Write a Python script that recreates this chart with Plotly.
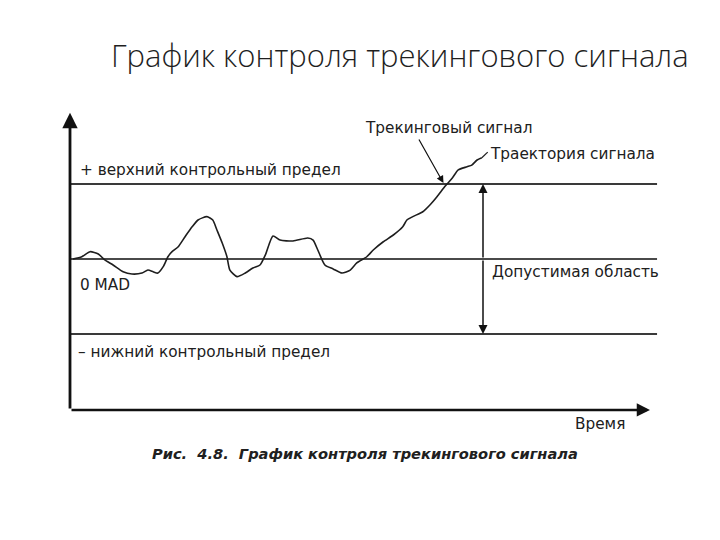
import plotly.graph_objects as go

# ---- data (time units, tracking signal in MAD units) ----
time = [0.5, 2.0, 3.4, 4.8, 5.9, 7.3, 9.0, 10.5, 12.2, 13.2, 14.1, 14.9, 15.8, 16.6,
        17.3, 18.3, 19.5, 20.7, 21.7, 23.2, 24.2, 24.9, 25.8, 26.6, 27.1, 28.3, 29.7,
        31.0, 32.2, 33.1, 34.4, 35.6, 37.8, 40.3, 41.2, 42.0, 43.2, 44.6, 46.1, 47.5,
        48.6, 50.3, 51.4, 53.1, 54.8, 56.4, 57.1, 58.1, 59.8, 61.0, 62.2, 63.6, 64.8,
        65.8, 67.3, 68.1, 69.0, 69.8]
signal = [0.00, 0.12, 0.39, 0.27, -0.05, -0.32, -0.68, -0.80, -0.75, -0.59, -0.68, -0.75,
          -0.41, 0.12, 0.39, 0.64, 1.19, 1.72, 2.08, 2.26, 2.08, 1.55, 0.85, 0.12, -0.59,
          -0.94, -0.75, -0.48, -0.32, 0.21, 1.23, 1.01, 0.96, 1.12, 1.01, 0.48, -0.32,
          -0.53, -0.75, -0.59, -0.21, 0.12, 0.48, 0.92, 1.28, 1.72, 2.08, 2.26, 2.52, 2.88,
          3.32, 3.89, 4.32, 4.75, 4.92, 5.01, 5.28, 5.40]

UCL = 4.0      # + верхний контрольный предел
CL = 0.0       # 0 MAD
LCL = -4.0     # - нижний контрольный предел
T_END = 99.5
Y_BOTTOM = -8.05
Y_TOP = 7.8
X_ARROW = 98.3
T_RANGE_MARK = 70.0

TXT = "#202020"
FONT = "DejaVu Sans"

# page offset (default body margin) compensation
OFF = 8
W, H = 720 - OFF, 540 - OFF
PX_T = 5.9      # pixels per time unit
PX_V = 18.75    # pixels per MAD unit
X0_PAGE, Y0_PAGE = 70, 259


def px(p):
    return (p - OFF) / W


def py(p):
    return 1 - (p - OFF) / H


fig = go.Figure()

fig.add_trace(go.Scatter(
    x=time, y=signal, mode="lines",
    line=dict(color="#1e1e1e", width=1.6, shape="spline", smoothing=0.6),
    hoverinfo="skip", showlegend=False))

# control lines
for lvl, w, c in [(UCL, 2.0, "#3a3a3a"), (CL, 2.2, "#4a4a4a"), (LCL, 2.0, "#3a3a3a")]:
    fig.add_shape(type="line", x0=0, x1=T_END, y0=lvl, y1=lvl,
                  line=dict(color=c, width=w), layer="below")

# small connector from signal end to its label
fig.add_shape(type="line", x0=time[-1], y0=signal[-1], x1=time[-1] + 1.0, y1=signal[-1] + 0.3,
              line=dict(color="#1e1e1e", width=1.2))

ann = []
# axes with arrows
ann.append(dict(x=0, y=Y_TOP, ax=0, ay=Y_BOTTOM, xref="x", yref="y", axref="x", ayref="y",
                text="", showarrow=True, arrowhead=2, arrowsize=1.1, arrowwidth=2.8,
                arrowcolor="#111", standoff=0))
ann.append(dict(x=X_ARROW, y=Y_BOTTOM, ax=0, ay=Y_BOTTOM, xref="x", yref="y", axref="x", ayref="y",
                text="", showarrow=True, arrowhead=2, arrowsize=1.1, arrowwidth=2.4,
                arrowcolor="#111", standoff=0))
# double arrow for allowed region
for end in (UCL, LCL):
    ann.append(dict(x=T_RANGE_MARK, y=end, ax=T_RANGE_MARK, ay=CL, xref="x", yref="y",
                    axref="x", ayref="y", text="", showarrow=True, arrowhead=2,
                    arrowsize=1.2, arrowwidth=1.5, arrowcolor="#111", standoff=0))
# tracking-signal pointer
ann.append(dict(x=63.3, y=4.05, ax=59.0, ay=6.45, xref="x", yref="y", axref="x", ayref="y",
                text="", showarrow=True, arrowhead=2, arrowsize=1.2, arrowwidth=1.2,
                arrowcolor="#111", standoff=0))

labels = [
    ("+ верхний контрольный предел", 1.3, 4.75),
    ("0 MAD", 1.3, -1.39),
    ("– нижний контрольный предел", 1.0, -4.96),
    ("Допустимая область", 71.2, -0.69),
    ("Трекинговый сигнал", 49.7, 6.99),
    ("Траектория сигнала", 70.9, 5.6),
    ("Время", 85.3, -8.8),
]
for txt, x, y in labels:
    ann.append(dict(x=x, y=y, xref="x", yref="y", text=txt, showarrow=False,
                    xanchor="left", yanchor="middle",
                    font=dict(family=FONT, size=15.3, color=TXT)))

ann.append(dict(x=px(365), y=py(453), xref="paper", yref="paper",
                text="<b><i>Рис.  4.8.  График контроля трекингового сигнала</i></b>",
                showarrow=False, xanchor="center", yanchor="middle",
                font=dict(family=FONT, size=14.6, color=TXT)))
ann.append(dict(x=px(400), y=py(55), xref="paper", yref="paper",
                text="График контроля трекингового сигнала",
                showarrow=False, xanchor="center", yanchor="middle",
                font=dict(family="Open Sans", size=31, color="#1f1f1f", weight=300)))

fig.update_layout(
    width=W, height=H, autosize=False,
    margin=dict(l=0, r=0, t=0, b=0, pad=0),
    paper_bgcolor="white", plot_bgcolor="white",
    xaxis=dict(range=[(OFF - X0_PAGE) / PX_T, (720 - X0_PAGE) / PX_T],
               visible=False, fixedrange=True),
    yaxis=dict(range=[(Y0_PAGE - 540) / PX_V, (Y0_PAGE - OFF) / PX_V],
               visible=False, fixedrange=True),
    annotations=ann,
    showlegend=False,
)

fig.write_html("out.html")
